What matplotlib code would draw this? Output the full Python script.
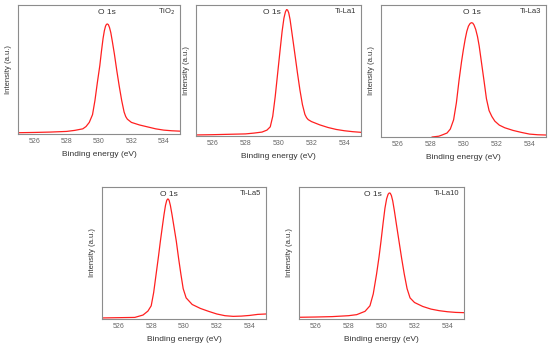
import matplotlib
matplotlib.use('Agg')
import matplotlib.pyplot as plt

plt.rcParams['font.family'] = ['Liberation Sans', 'DejaVu Sans']

RED = '#FF2020'
FRAME = '#8C8C8C'
TEXT = '#333333'
TICK = '#666666'

samples = ['TiO$_2$', 'Ti-La1', 'Ti-La3', 'Ti-La5', 'Ti-La10']
peak_label = 'O 1s'
xticks = [526, 528, 530, 532, 534]

# binding energy (eV) / normalised intensity
tio2_e = [525.0, 526.0, 527.0, 528.0, 528.5, 529.0, 529.2, 529.4, 529.6, 529.75, 529.9,
          530.05, 530.15, 530.25, 530.33, 530.4, 530.46, 530.52, 530.58, 530.65, 530.73,
          530.82, 530.95, 531.1, 531.25, 531.4, 531.55, 531.65, 531.75, 532.0, 532.5,
          533.0, 533.5, 534.0, 534.5, 535.0]
tio2_i = [0.010, 0.012, 0.015, 0.020, 0.028, 0.040, 0.058, 0.090, 0.150, 0.260, 0.400,
          0.530, 0.640, 0.740, 0.800, 0.835, 0.850, 0.853, 0.847, 0.825, 0.785,
          0.720, 0.620, 0.490, 0.370, 0.260, 0.170, 0.135, 0.115, 0.090, 0.070,
          0.055, 0.040, 0.030, 0.025, 0.022]

la1_e = [525.0, 526.0, 527.0, 528.0, 528.5, 529.0, 529.3, 529.5, 529.65, 529.8, 529.95,
         530.1, 530.22, 530.33, 530.42, 530.49, 530.55, 530.62, 530.7, 530.8, 530.9,
         531.02, 531.15, 531.3, 531.45, 531.6, 531.7, 531.8, 532.0, 532.5, 533.0, 533.5,
         534.0, 534.5, 535.0]
la1_i = [0.008, 0.010, 0.013, 0.016, 0.022, 0.030, 0.045, 0.070, 0.150, 0.300, 0.480,
         0.660, 0.800, 0.900, 0.948, 0.965, 0.962, 0.940, 0.890, 0.800, 0.710,
         0.600, 0.480, 0.350, 0.240, 0.165, 0.140, 0.125, 0.110, 0.085, 0.065, 0.050,
         0.040, 0.033, 0.028]

la3_e = [528.1, 528.5, 528.7, 529.0, 529.2, 529.4, 529.57, 529.73, 529.88, 529.99, 530.1,
         530.2, 530.3, 530.4, 530.48, 530.56, 530.64, 530.74, 530.85, 530.95, 531.05, 531.15,
         531.25, 531.39, 531.55, 531.72, 531.9, 532.17, 532.5, 533.0, 533.5, 534.0, 534.5,
         535.0]
la3_i = [0.000, 0.006, 0.015, 0.030, 0.060, 0.130, 0.260, 0.430, 0.570, 0.660, 0.740,
         0.800, 0.840, 0.860, 0.866, 0.863, 0.848, 0.815, 0.760, 0.690, 0.600, 0.510,
         0.420, 0.290, 0.200, 0.155, 0.120, 0.090, 0.070, 0.050, 0.035, 0.022, 0.017,
         0.015]

la5_e = [525.0, 526.0, 527.0, 527.5, 527.8, 528.0, 528.15, 528.3, 528.45, 528.56, 528.68,
         528.78, 528.87, 528.95, 529.02, 529.09, 529.17, 529.27, 529.4, 529.53, 529.67,
         529.81, 529.95, 530.13, 530.5, 531.0, 531.5, 532.0, 532.5, 533.0, 533.5, 534.0,
         534.5, 535.0]
la5_i = [0.008, 0.010, 0.012, 0.030, 0.060, 0.100, 0.200, 0.340, 0.480, 0.590, 0.700,
         0.790, 0.860, 0.900, 0.910, 0.900, 0.860, 0.790, 0.690, 0.590, 0.460,
         0.340, 0.230, 0.160, 0.110, 0.080, 0.058, 0.038, 0.025, 0.020, 0.022, 0.027,
         0.035, 0.038]

la10_e = [525.0, 526.0, 527.0, 528.0, 528.5, 529.0, 529.3, 529.5, 529.7, 529.85, 529.97,
          530.1, 530.21, 530.31, 530.4, 530.47, 530.53, 530.6, 530.68, 530.78, 530.9,
          531.06, 531.22, 531.38, 531.55, 531.73, 532.0, 532.5, 533.0, 533.5, 534.0,
          534.5, 535.0]
la10_i = [0.013, 0.015, 0.018, 0.025, 0.033, 0.058, 0.100, 0.190, 0.340, 0.470, 0.590,
          0.730, 0.840, 0.910, 0.945, 0.955, 0.953, 0.935, 0.895, 0.820, 0.720,
          0.590, 0.460, 0.340, 0.230, 0.160, 0.125, 0.095, 0.075, 0.063, 0.055,
          0.050, 0.048]

energies = [tio2_e, la1_e, la3_e, la5_e, la10_e]
intensities = [tio2_i, la1_i, la3_i, la5_i, la10_i]
label_x = [530.5, 529.6, 530.5, 529.1, 529.5]

W, H = 550, 345
# panel boxes in pixels: left, right, top, bottom
boxes = [(18, 180, 5, 134), (196, 361, 5, 136), (381, 546, 5, 137),
         (102, 266, 187, 319), (299, 464, 187, 319)]

fig = plt.figure(figsize=(W / 100, H / 100), dpi=100)
fig.patch.set_facecolor('#FFFFFF')

for k, (l, r, t, b) in enumerate(boxes):
    ax = fig.add_axes([l / W, 1 - b / H, (r - l) / W, (b - t) / H])
    ax.plot(energies[k], intensities[k], color=RED, linewidth=0.9)
    ax.set_xlim(525, 535)
    ax.set_ylim(0, 1)
    ax.set_xticks(xticks)
    ax.set_yticks([])
    ax.tick_params(axis='x', length=0, pad=3, labelsize=5, colors=TICK)
    for s in ax.spines.values():
        s.set_color(FRAME)
        s.set_linewidth(0.8)
    ax.set_xlabel('Binding energy (eV)', fontsize=6, color=TEXT, labelpad=4)
    ax.set_ylabel('Intensity (a.u.)', fontsize=5.5, color=TEXT, labelpad=4)
    ax.text(label_x[k], 0.94, peak_label, ha='center', va='center', fontsize=6, color=TEXT)
    ax.text(0.97, 0.95, samples[k], transform=ax.transAxes, ha='right', va='center',
            fontsize=5.5, color=TEXT)

fig.savefig('out.png', dpi=100, facecolor='#FFFFFF')
plt.close(fig)
